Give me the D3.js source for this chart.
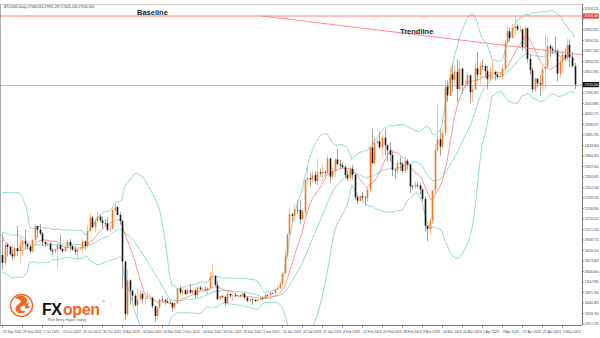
<!DOCTYPE html>
<html>
<head>
<meta charset="utf-8">
<script src="https://cdn.jsdelivr.net/npm/d3@7"></script>
<style>
html, body { margin: 0; padding: 0; background: #fff; overflow: hidden; }
svg { display: block; }
text { font-family: "Liberation Sans", Arial, sans-serif; }
</style>
</head>
<body>
<div id="container"></div>
<script>
// BTCUSD daily, 21 Sep 2022 .. 8 May 2023
var startDay = "2022-09-21";
var title = "BTCUSD,Daily  27946.410 27951.237 27425.236 27520.054";

// closes before the first visible bar (only used to warm up the indicators)
var priorCloses = [20130,19950,19830,20000,19800,18790,19290,19320,21360,21650,21830,22400,20180,20240,19700,19800,20110,19420,19540,18880];

var opens = [
  18875,18480,19400,19290,18920,18800,19220,19080,19410,19590,
  19420,19310,19060,19620,20340,20160,19960,19530,19420,19450,19130,19060,19160,19380,19180,19070,19260,19550,19330,19140,19050,19170,19200,19570,19330,20090,20770,20290,20600,20820,20630,
  20490,20480,20160,20210,21150,21300,20910,20600,18540,15880,17590,17070,16810,16330,16620,16900,16660,16690,16700,16700,16280,15780,16190,16610,16600,16520,16460,16440,16220,16440,
  17170,16970,17090,16890,17110,16970,17090,16840,17230,17130,17130,17090,17210,17780,17810,17360,16630,16780,16740,16440,16900,16820,16830,16780,16840,16830,16920,16710,16550,16630,16600,
  16540,16620,16680,16670,16850,16830,16950,16940,17120,17180,17440,17940,18850,19930,20950,20870,21170,21160,20690,21080,22670,22780,22710,22930,22630,23060,23010,23080,23030,23770,22840,
  23140,23720,23490,23430,23330,22940,22760,23260,22940,21800,21630,21860,21790,21780,22200,24330,23530,24570,24640,24330,24830,24440,24190,23950,23200,23160,23550,23490,
  23140,23650,23470,22360,22350,22430,22410,22200,21720,20360,20190,20630,22160,24200,24750,24380,25060,27420,26970,28040,27770,28170,27300,28330,27490,27490,27990,27140,27270,28350,28030,
  28480,28460,28200,27790,28170,28170,28030,27910,27950,28330,29660,30230,29880,30390,30480,30320,30320,29430,30380,28820,28250,27270,27820,27590,27520,28300,28420,29470,29340,29250,
  29230,28070,28670,29030,28850,29530,28900,28450
];
var highs = [
  19950,19480,19480,19310,19180,19310,20340,19790,19650,20170,
  19480,19390,19700,20470,20360,20440,20050,19610,19560,19520,19250,19220,19500,19930,19220,19400,19660,19700,19360,19340,19240,19250,19690,19600,20400,21000,20860,20740,21070,20920,20830,
  20690,20800,20390,21300,21480,21370,21060,20680,18590,18150,17650,17080,16920,17180,17110,16980,16760,16990,16820,16750,16290,16280,16700,16800,16610,16680,16600,16480,16530,17200,
  17320,17100,17160,17200,17420,17110,17130,17290,17300,17220,17270,17240,18000,18390,17850,17530,16800,16860,16800,17040,16910,16870,16960,16860,16850,16940,16960,16780,16660,16640,16630,
  16630,16780,16770,16990,16880,17040,16970,17180,17390,17490,17990,19100,19960,21260,21000,21440,21630,21650,21190,22730,23340,23060,23160,23140,23780,23270,23480,23160,23950,23800,23300,
  23790,24250,23700,23580,23430,23160,23350,23450,22990,21930,21900,22070,21880,22300,24370,25250,24880,24750,25140,25000,25250,24470,24590,24120,23210,23660,23860,23600,
  23890,23760,23480,22430,22610,22560,22540,22260,21820,20370,20800,22170,24530,26500,25250,25200,27750,27720,28400,28500,28500,28820,28750,28370,27780,28200,28030,27500,28640,29170,28660,
  28800,28530,28480,28440,28750,28190,28100,28150,28500,29760,30470,30420,30590,31000,30600,30540,30350,30470,30420,29080,28370,27880,27820,28000,28390,30020,29880,29580,29450,29960,
  29330,28870,29260,29370,29840,29820,29180,28630
];
var lows = [
  18130,18350,18810,18840,18640,18680,18820,18480,18870,19160,
  19160,18930,19000,19500,19750,19870,19330,19260,19320,19030,18860,18970,18190,19100,18980,19060,19160,19100,19090,18900,18660,19110,19080,19160,19250,20060,20230,20020,20560,20530,20240,
  20340,20070,20050,20180,21080,20900,20400,17170,15590,15760,16360,16550,16240,15820,16550,16400,16380,16620,16560,16180,15480,15610,16170,16460,16350,16430,16400,16010,16110,16420,
  16860,16800,16880,16880,16880,16910,16690,16740,17100,17090,17070,16870,17090,17660,17280,16590,16580,16680,16300,16400,16720,16560,16760,16780,16740,16790,16620,16470,16490,16340,16490,
  16500,16550,16600,16660,16750,16680,16910,16910,17100,17150,17320,17930,18720,19890,20560,20620,20950,20440,20660,20880,22440,22340,22530,22490,22360,22850,22620,22890,22990,22550,22720,
  22790,23410,23230,23270,22780,22640,22700,22690,21690,21470,21600,21650,21370,21550,22050,23520,23400,24460,24300,23880,23930,23620,23630,22870,22750,22990,23130,23030,
  23030,23210,22020,22200,22220,22290,21960,21600,20060,19570,19890,20450,21920,24100,23920,24270,24900,26640,26900,27170,27400,26650,27170,27050,27280,27440,26590,26650,27250,27720,27540,
  28260,27870,27280,27680,27830,27720,27790,27880,27800,28170,29600,29700,29870,29990,30230,30170,29250,29110,28630,28030,27130,27130,27370,26970,27200,27240,28390,28900,29070,29100,
  27680,27880,28140,28690,28810,28400,28380,27300
];
var closes = [
  18480,19400,19290,18920,18800,19220,19080,19410,19590,19420,
  19310,19060,19620,20340,20160,19960,19530,19420,19450,19130,19060,19160,19380,19180,19070,19260,19550,19330,19140,19050,19170,19200,19570,19330,20090,20770,20290,20600,20820,20630,20490,
  20480,20160,20210,21150,21300,20910,20600,18540,15880,17590,17070,16810,16330,16620,16900,16660,16690,16700,16700,16280,15780,16190,16610,16600,16520,16460,16440,16220,16440,17170,
  16970,17090,16890,17110,16970,17090,16840,17230,17130,17130,17090,17210,17780,17810,17360,16630,16780,16740,16440,16900,16820,16830,16780,16840,16830,16920,16710,16550,16630,16600,16540,
  16620,16680,16670,16850,16830,16950,16940,17120,17180,17440,17940,18850,19930,20950,20870,21170,21160,20690,21080,22670,22780,22710,22930,22630,23060,23010,23080,23030,23770,22840,23140,
  23720,23490,23430,23330,22940,22760,23260,22940,21800,21630,21860,21790,21780,22200,24330,23530,24570,24640,24330,24830,24440,24190,23950,23200,23160,23550,23490,23140,
  23650,23470,22360,22350,22430,22410,22200,21720,20360,20190,20630,22160,24200,24750,24380,25060,27420,26970,28040,27770,28170,27300,28330,27490,27490,27990,27140,27270,28350,28030,28480,
  28460,28200,27790,28170,28170,28030,27910,27950,28330,29660,30230,29880,30390,30480,30320,30320,29430,30380,28820,28250,27270,27820,27590,27520,28300,28420,29470,29340,29250,29230,
  28070,28670,29030,28850,29530,28900,28450,27520
];

var priceTicks = [31358.225,30825.520,30292.815,29760.110,29227.405,28694.700,28161.995,27629.290,27096.585,26563.880,
  26031.175,25498.470,24965.765,24433.060,23900.355,23367.650,22834.945,22302.240,21769.535,21236.830,
  20704.125,20171.420,19638.715,19106.010,18573.305,18040.600,17507.895,16975.190,16442.485,15909.780,15377.075];
var dateTicks = ["21 Sep 2022","29 Sep 2022","7 Oct 2022","15 Oct 2022","23 Oct 2022","31 Oct 2022","8 Nov 2022",
  "16 Nov 2022","24 Nov 2022","2 Dec 2022","10 Dec 2022","18 Dec 2022","26 Dec 2022","3 Jan 2023","11 Jan 2023",
  "19 Jan 2023","27 Jan 2023","4 Feb 2023","12 Feb 2023","20 Feb 2023","28 Feb 2023","8 Mar 2023","16 Mar 2023",
  "24 Mar 2023","1 Apr 2023","9 Apr 2023","17 Apr 2023","25 Apr 2023","3 May 2023"];

var baselinePrice = 31000;
var trendDates = ["2023-01-03", "2023-05-08"];
var trendPrices = [31000, 29080];
var bandPeriod = 20, bandDev = 2, maPeriod = 10;

var W = 600, H = 338;
var plotRight = 582, plotTop = 4, plotBottom = 325;
var bullBody = "#f5781f", bullWick = "#f7b184", bearBody = "#161616", bearWick = "#8c8c8c";
var bandColor = "#86d6cf", maColor = "#f17d7d", redLine = "#ff6f6f";

var parseDay = d3.timeParse("%Y-%m-%d"), parseLabel = d3.timeParse("%d %b %Y");
var day0 = parseDay(startDay);
var n = closes.length;

var x = d3.scaleLinear().domain([0, n - 1]).range([2, 574.5]);
var y = d3.scaleLinear().domain([15476, 31000]).range([322, 16]);

// indicators from closes
var all = priorCloses.concat(closes), off = priorCloses.length;
var upper = [], lower = [], mid = [], ma = [];
for (var i = 0; i < n; i++) {
  var w = all.slice(i + off - bandPeriod + 1, i + off + 1);
  var m = d3.mean(w);
  var sd = Math.sqrt(d3.mean(w, function(v) { return (v - m) * (v - m); }));
  mid.push(m); upper.push(m + bandDev * sd); lower.push(m - bandDev * sd);
  ma.push(d3.mean(all.slice(i + off - maPeriod + 1, i + off + 1)));
}

var svg = d3.select("#container").append("svg").attr("width", W).attr("height", H);
svg.append("rect").attr("width", W).attr("height", H).attr("fill", "#fff");

svg.append("clipPath").attr("id", "plot").append("rect")
  .attr("x", 0).attr("y", plotTop).attr("width", plotRight).attr("height", plotBottom - plotTop);
var g = svg.append("g").attr("clip-path", "url(#plot)");

// last price line
var lastY = Math.round(y(closes[n - 1])) + 0.5;
g.append("line").attr("x1", 0).attr("x2", plotRight).attr("y1", lastY).attr("y2", lastY)
  .attr("stroke", "#a8a8a8").attr("stroke-width", 0.8);

// bands and moving average
var lineGen = function(arr) {
  return d3.line().x(function(d, i) { return x(i); }).y(function(d) { return y(d); })(arr);
};
[upper, mid, lower].forEach(function(arr) {
  g.append("path").attr("d", lineGen(arr)).attr("fill", "none").attr("stroke", bandColor).attr("stroke-width", 0.9);
});
g.append("path").attr("d", lineGen(ma)).attr("fill", "none").attr("stroke", maColor).attr("stroke-width", 0.8);

// candles
var idx = d3.range(n);
g.selectAll("line.wick").data(idx).enter().append("line")
  .attr("x1", function(i) { return Math.round(x(i)) + 0.5; })
  .attr("x2", function(i) { return Math.round(x(i)) + 0.5; })
  .attr("y1", function(i) { return y(highs[i]); })
  .attr("y2", function(i) { return y(lows[i]); })
  .attr("stroke", function(i) { return closes[i] >= opens[i] ? bullWick : bearWick; })
  .attr("stroke-width", 0.8);
g.selectAll("rect.body").data(idx).enter().append("rect")
  .attr("x", function(i) { return Math.round(x(i)) - 0.3; })
  .attr("width", 1.6)
  .attr("y", function(i) { return y(Math.max(opens[i], closes[i])); })
  .attr("height", function(i) { return Math.max(0.6, Math.abs(y(opens[i]) - y(closes[i]))); })
  .attr("fill", function(i) { return closes[i] >= opens[i] ? bullBody : bearBody; });

// baseline and trendline
var by = y(baselinePrice);
g.append("line").attr("x1", 0).attr("x2", plotRight).attr("y1", by).attr("y2", by)
  .attr("stroke", redLine).attr("stroke-width", 0.9);
var t0 = d3.timeDay.count(day0, parseDay(trendDates[0])), t1 = d3.timeDay.count(day0, parseDay(trendDates[1]));
var slope = (trendPrices[1] - trendPrices[0]) / (t1 - t0);
var tEnd = x.invert(plotRight);
g.append("line")
  .attr("x1", x(t0)).attr("y1", y(trendPrices[0]))
  .attr("x2", plotRight).attr("y2", y(trendPrices[0] + slope * (tEnd - t0)))
  .attr("stroke", redLine).attr("stroke-width", 0.8);

svg.append("text").attr("x", 137).attr("y", 14.5).text("Baseline")
  .attr("font-size", 7.5).attr("font-weight", "bold").attr("fill", "#222");
svg.append("text").attr("x", 400).attr("y", 33.5).text("Trendline")
  .attr("font-size", 7.5).attr("font-weight", "bold").attr("fill", "#222");

// frame
svg.append("line").attr("x1", 0.5).attr("x2", 0.5).attr("y1", plotTop).attr("y2", plotBottom).attr("stroke", "#777").attr("stroke-width", 0.6);
svg.append("line").attr("x1", 0).attr("x2", plotRight).attr("y1", plotTop + 0.5).attr("y2", plotTop + 0.5).attr("stroke", "#999").attr("stroke-width", 0.5);
svg.append("line").attr("x1", plotRight + 0.5).attr("x2", plotRight + 0.5).attr("y1", plotTop).attr("y2", plotBottom).attr("stroke", "#555").attr("stroke-width", 0.8);
svg.append("line").attr("x1", 0).attr("x2", plotRight).attr("y1", plotBottom + 0.5).attr("y2", plotBottom + 0.5).attr("stroke", "#555").attr("stroke-width", 0.8);

svg.append("text").attr("x", 4).attr("y", 8).text(title).attr("font-size", 3.4).attr("fill", "#333");

// price axis: skip labels hidden under the price tags
var tagPrices = [baselinePrice, closes[n - 1]];
var ya = svg.append("g");
priceTicks.forEach(function(p) {
  var ty = y(p);
  ya.append("line").attr("x1", plotRight).attr("x2", plotRight + 2).attr("y1", ty).attr("y2", ty).attr("stroke", "#555").attr("stroke-width", 0.5);
  var hidden = tagPrices.some(function(tp) { return Math.abs(y(tp) - ty) < 5.5; });
  if (hidden) return;
  ya.append("text").attr("x", plotRight + 2.5).attr("y", ty + 1.1).text(p.toFixed(3))
    .attr("font-size", 3.0).attr("fill", "#444");
});
function priceTag(p, color) {
  var ty = y(p);
  ya.append("rect").attr("x", plotRight + 1).attr("y", ty - 2.6).attr("width", 16).attr("height", 5.2).attr("fill", color);
  ya.append("text").attr("x", plotRight + 2.5).attr("y", ty + 1.1).text(p.toFixed(3))
    .attr("font-size", 3.0).attr("fill", "#fff");
}
priceTag(baselinePrice, "#f03c3c");
priceTag(closes[n - 1], "#111");

// date axis
var xa = svg.append("g");
dateTicks.forEach(function(s) {
  var k = d3.timeDay.count(day0, parseLabel(s));
  var tx = Math.round(x(k)) + 0.5;
  xa.append("line").attr("x1", tx).attr("x2", tx).attr("y1", plotBottom).attr("y2", plotBottom + 3).attr("stroke", "#555").attr("stroke-width", 0.5);
  xa.append("text").attr("x", tx + 0.5).attr("y", plotBottom + 8).text(s)
    .attr("font-size", 3.3).attr("fill", "#444");
});

// logo
var logo = svg.append("g");
logo.append("circle").attr("cx", 21.5).attr("cy", 305.5).attr("r", 11).attr("fill", "none").attr("stroke", "#f26722").attr("stroke-width", 1.3);
logo.append("path").attr("d", "M15,298 C19,294 26,295 27,300 C28,304 23,305 21,307 C19,309 22,312 26,311 C24,314 18,314 16,311 C14,308 17,305 20,303 C22,301 20,299 15,298 Z")
  .attr("fill", "#f26722");
logo.append("path").attr("d", "M24,305 l5,-3 l-1,4 l3,1 l-5,2 Z").attr("fill", "#f26722");
logo.append("text").attr("x", 42).attr("y", 315).text("FX").attr("font-size", 16).attr("font-weight", "bold").attr("fill", "#111")
  .attr("letter-spacing", -0.6);
logo.append("text").attr("x", 63).attr("y", 315).text("open").attr("font-size", 16).attr("font-weight", "bold").attr("fill", "#f26722")
  .attr("letter-spacing", -0.4);
logo.append("text").attr("x", 102).attr("y", 303).text("®").attr("font-size", 4).attr("fill", "#666");
logo.append("text").attr("x", 48).attr("y", 320.5).text("Wiser Money. Happier Trading").attr("font-size", 2.8).attr("fill", "#555");
</script>
</body>
</html>
